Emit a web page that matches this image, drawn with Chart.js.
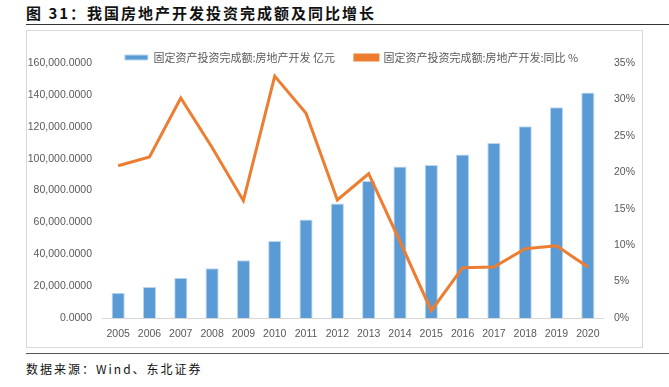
<!DOCTYPE html>
<html>
<head>
<meta charset="utf-8">
<script src="https://cdn.jsdelivr.net/npm/chart.js@4"></script>
<style>
  body { margin: 0; width: 669px; height: 387px; background: #fff; position: relative; overflow: hidden; font-family: "Noto Sans CJK SC", sans-serif; }
  .title { position: absolute; left: 26px; top: 2px; font-size: 15px; font-weight: bold; color: #111; letter-spacing: 2px; }
  .rule-top { position: absolute; left: 26px; right: 0; top: 24px; border-top: 1.5px solid #333; }
  .box { position: absolute; left: 26px; top: 30px; width: 615px; height: 316px; border: 1px solid #d9d9d9; }
  .rule-bottom { position: absolute; left: 26px; right: 0; top: 353px; border-top: 1.5px solid #555; }
  .source { position: absolute; left: 26px; top: 360px; font-size: 12px; color: #111; letter-spacing: 2px; }
</style>
</head>
<body>
<div class="title">图 31：我国房地产开发投资完成额及同比增长</div>
<div class="rule-top"></div>
<div class="box"><canvas id="chart" width="615" height="316"></canvas></div>
<div class="rule-bottom"></div>
<div class="source">数据来源：Wind、东北证券</div>
<script>
const years = ['2005','2006','2007','2008','2009','2010','2011','2012','2013','2014','2015','2016','2017','2018','2019','2020'];
const investment = [15909, 19423, 25289, 31203, 36242, 48259, 61797, 71804, 86013, 95036, 95979, 102581, 109799, 120264, 132194, 141443];
const yoy = [20.9, 22.1, 30.2, 23.4, 16.1, 33.2, 28.1, 16.2, 19.8, 10.5, 1.0, 6.9, 7.0, 9.5, 9.9, 7.0];
const leftTicks = [0, 20000, 40000, 60000, 80000, 100000, 120000, 140000, 160000];
const rightTicks = [0, 5, 10, 15, 20, 25, 30, 35];

const tickFont = { family: "'Liberation Sans', sans-serif", size: 10.5 };
const grey = '#595959';

// legend sits partly over the plot, and a little right of centre, as in the source
const legendTweak = {
  id: 'legendTweak',
  beforeInit(chart) {
    const fit = chart.legend.fit;
    chart.legend.fit = function () { fit.bind(chart.legend)(); this.height -= 10; };
  },
  afterLayout(chart) {
    chart.legend.left += 17;
    chart.legend.right += 17;
  }
};

new Chart(document.getElementById('chart'), {
  data: {
    labels: years,
    datasets: [
      {
        type: 'line',
        label: '固定资产投资完成额:房地产开发:同比 %',
        data: yoy,
        yAxisID: 'y1',
        borderColor: '#ED7D31',
        backgroundColor: '#ED7D31',
        borderWidth: 3,
        pointRadius: 0,
        tension: 0,
        order: 0
      },
      {
        type: 'bar',
        label: '固定资产投资完成额:房地产开发 亿元',
        data: investment,
        yAxisID: 'y',
        backgroundColor: '#5B9BD5',
        borderColor: '#BDD7EE',
        borderWidth: 1,
        barPercentage: 0.42,
        categoryPercentage: 1,
        order: 1
      }
    ]
  },
  options: {
    responsive: false,
    animation: false,
    layout: { padding: { top: 1, bottom: 0, left: 0, right: 0 } },
    plugins: {
      legend: {
        reverse: true,
        labels: {
          boxWidth: 23, boxHeight: 5, padding: 20, color: grey,
          font: { family: "'Noto Sans CJK SC', sans-serif", size: 11 }
        }
      },
      tooltip: { enabled: false }
    },
    scales: {
      x: {
        grid: { display: false, drawTicks: false },
        border: { color: '#d9d9d9', width: 1 },
        ticks: { color: grey, font: tickFont, padding: 10, maxRotation: 0 },
        afterFit: s => { s.height = 29; }
      },
      y: {
        position: 'left',
        min: 0, max: 160000,
        grid: { display: false, drawTicks: false },
        border: { display: false },
        afterBuildTicks: s => { s.ticks = leftTicks.map(v => ({ value: v })); },
        ticks: {
          color: grey, font: tickFont, padding: 10.5,
          callback: v => v.toLocaleString('en-US', { minimumFractionDigits: 4, maximumFractionDigits: 4 })
        },
        afterFit: s => { s.width = 75.5; }
      },
      y1: {
        position: 'right',
        min: 0, max: 35,
        grid: { display: false, drawTicks: false },
        border: { display: false },
        afterBuildTicks: s => { s.ticks = rightTicks.map(v => ({ value: v })); },
        ticks: { color: grey, font: tickFont, padding: 10.5, callback: v => v + '%' },
        afterFit: s => { s.width = 38.5; }
      }
    }
  },
  plugins: [legendTweak]
});
</script>
</body>
</html>
